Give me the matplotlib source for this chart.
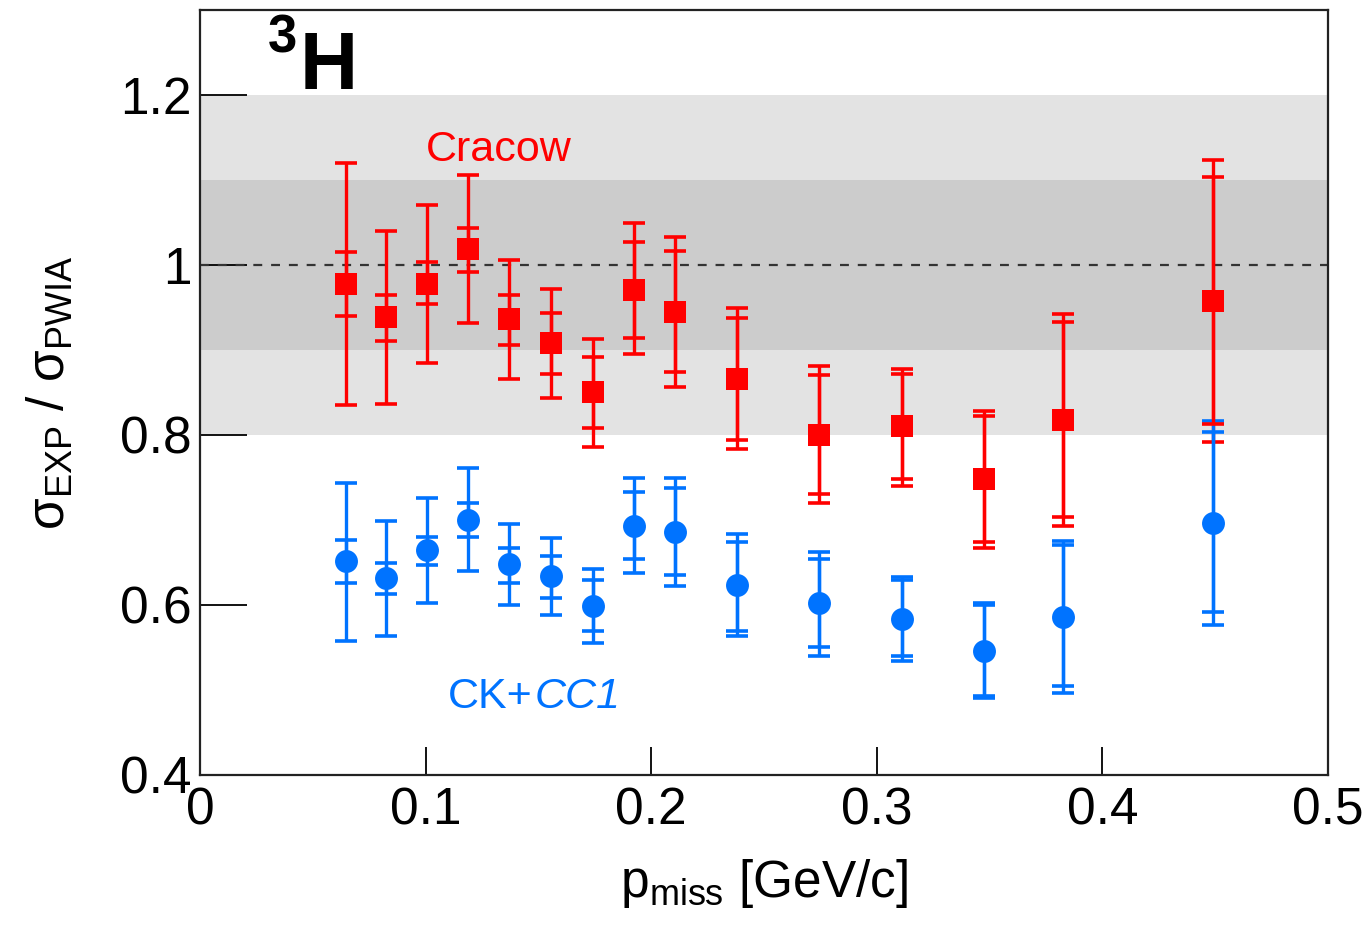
import matplotlib
matplotlib.use('Agg')
import matplotlib.pyplot as plt
import numpy as np

### Данные
p_miss = [0.0647, 0.0825, 0.1005, 0.1187, 0.137, 0.1556, 0.174, 0.1924,
          0.2106, 0.238, 0.2745, 0.311, 0.3475, 0.3827, 0.449]

# Cracow
cracow_val = [0.978, 0.939, 0.978, 1.019, 0.936, 0.908, 0.850, 0.971,
              0.945, 0.866, 0.800, 0.810, 0.748, 0.818, 0.958]
cracow_stat_hi = [1.015, 0.965, 1.004, 1.044, 0.965, 0.943, 0.892, 1.027,
                  1.016, 0.938, 0.870, 0.872, 0.822, 0.933, 1.104]
cracow_stat_lo = [0.940, 0.910, 0.954, 0.992, 0.906, 0.872, 0.808, 0.914,
                  0.874, 0.794, 0.731, 0.748, 0.674, 0.703, 0.813]
cracow_tot_hi = [1.120, 1.040, 1.070, 1.106, 1.006, 0.972, 0.913, 1.049,
                 1.033, 0.949, 0.881, 0.878, 0.828, 0.942, 1.124]
cracow_tot_lo = [0.835, 0.837, 0.885, 0.932, 0.866, 0.843, 0.786, 0.895,
                 0.856, 0.783, 0.720, 0.740, 0.667, 0.693, 0.792]

# CK+CC1
ck_val = [0.652, 0.632, 0.665, 0.700, 0.648, 0.634, 0.599, 0.693,
          0.686, 0.623, 0.602, 0.584, 0.546, 0.586, 0.697]
ck_stat_hi = [0.676, 0.649, 0.680, 0.720, 0.667, 0.658, 0.629, 0.733,
              0.738, 0.674, 0.654, 0.629, 0.600, 0.670, 0.804]
ck_stat_lo = [0.626, 0.613, 0.647, 0.680, 0.626, 0.608, 0.569, 0.654,
              0.635, 0.569, 0.550, 0.540, 0.493, 0.505, 0.592]
ck_tot_hi = [0.744, 0.699, 0.726, 0.761, 0.695, 0.679, 0.642, 0.749,
             0.749, 0.683, 0.662, 0.633, 0.602, 0.675, 0.817]
ck_tot_lo = [0.558, 0.563, 0.602, 0.640, 0.600, 0.588, 0.555, 0.638,
             0.622, 0.564, 0.540, 0.534, 0.491, 0.497, 0.576]

RED = '#ff0000'
BLUE = '#0073ff'

plt.rcParams['font.family'] = ['Liberation Sans', 'DejaVu Sans']
plt.rcParams['mathtext.fontset'] = 'custom'
plt.rcParams['mathtext.rm'] = 'Liberation Sans'
plt.rcParams['mathtext.it'] = 'Liberation Sans:italic'
plt.rcParams['mathtext.bf'] = 'Liberation Sans:bold'


def draw_series(ax, x, val, s_lo, s_hi, t_lo, t_hi, color, marker, ms):
    val = np.array(val)
    tot_err = [val - np.array(t_lo), np.array(t_hi) - val]
    stat_err = [val - np.array(s_lo), np.array(s_hi) - val]
    # полная ошибка
    ax.errorbar(x, val, yerr=tot_err, fmt='none', ecolor=color,
                elinewidth=2.4, capsize=8, capthick=2.6, zorder=3)
    # статистическая ошибка
    ax.errorbar(x, val, yerr=stat_err, fmt='none', ecolor=color,
                elinewidth=2.4, capsize=8, capthick=2.6, zorder=4)
    # точки
    ax.plot(x, val, ls='none', marker=marker, color=color, ms=ms,
            markeredgewidth=0, zorder=5)


fig = plt.figure(figsize=(13.66, 9.31), dpi=100)
ax = fig.add_axes([0.1464, 0.1676, 0.9722 - 0.1464, 0.9893 - 0.1676])

ax.set_xlim(0, 0.5)
ax.set_ylim(0.4, 1.3)

# полосы
ax.axhspan(0.8, 1.2, color='#e3e3e3', lw=0, zorder=0)
ax.axhspan(0.9, 1.1, color='#cccccc', lw=0, zorder=1)
ax.axhline(1.0, color='#333333', ls=(0, (4, 4)), lw=1.6, zorder=2)

draw_series(ax, p_miss, cracow_val, cracow_stat_lo, cracow_stat_hi,
            cracow_tot_lo, cracow_tot_hi, RED, 's', 16)
draw_series(ax, p_miss, ck_val, ck_stat_lo, ck_stat_hi,
            ck_tot_lo, ck_tot_hi, BLUE, 'o', 16.5)

ax.set_xticks([0, 0.1, 0.2, 0.3, 0.4, 0.5])
ax.set_xticklabels(['0', '0.1', '0.2', '0.3', '0.4', '0.5'])
ax.set_yticks([0.4, 0.6, 0.8, 1.0, 1.2])
ax.set_yticklabels(['0.4', '0.6', '0.8', '1', '1.2'])
ax.tick_params(axis='x', direction='in', length=20, width=1.3, labelsize=37, pad=8)
ax.tick_params(axis='y', direction='in', length=34, width=1.3, labelsize=37, pad=6)
for s in ax.spines.values():
    s.set_linewidth(1.6)
    s.set_color('#222222')

ax.set_xlabel(r'p$_{\mathrm{miss}}$ [GeV/c]', fontsize=37, labelpad=16)
ax.set_ylabel(r'σ$_{\mathrm{EXP}}$ / σ$_{\mathrm{PWIA}}$', fontsize=37, labelpad=32)

ax.text(0.1, 1.135, 'Cracow', color=RED, fontsize=31, ha='left', va='center')
ax.text(0.11, 0.492, 'CK+', color=BLUE, fontsize=31, ha='left', va='center')
ax.text(0.1485, 0.492, 'CC1', color=BLUE, fontsize=31, ha='left', va='center',
        style='italic')

ax.text(0.0443, 1.207, 'H', fontsize=58, fontweight='bold', ha='left', va='baseline')
ax.text(0.030, 1.25, '3', fontsize=38, fontweight='bold', ha='left', va='baseline')

fig.savefig('out.png', dpi=100)
